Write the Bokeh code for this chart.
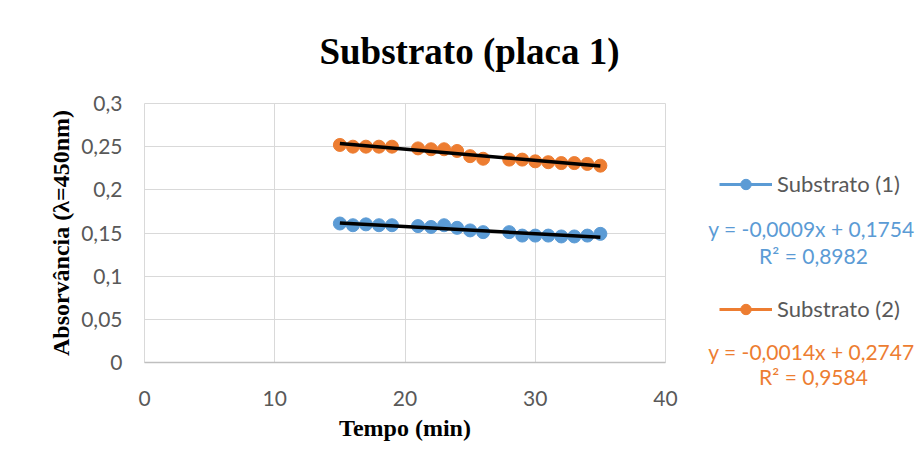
import numpy as np
from bokeh.plotting import figure
from bokeh.layouts import column, row
from bokeh.models import (Label, Legend, LegendItem, FixedTicker, Range1d,
                          ColumnDataSource)
from bokeh.embed import file_html
from bokeh.resources import INLINE

# ---- data ----
tempo = [15, 16, 17, 18, 19, 21, 22, 23, 24, 25, 26, 28, 29, 30, 31, 32, 33, 34, 35]
substrato_1 = [0.161, 0.159, 0.160, 0.159, 0.159, 0.158, 0.157, 0.159, 0.156, 0.153,
               0.151, 0.151, 0.147, 0.147, 0.147, 0.146, 0.146, 0.147, 0.149]
substrato_2 = [0.252, 0.250, 0.250, 0.250, 0.250, 0.248, 0.247, 0.247, 0.245, 0.239,
               0.236, 0.235, 0.235, 0.233, 0.232, 0.231, 0.231, 0.230, 0.228]
series_names = ["Substrato (1)", "Substrato (2)"]
equations = ["y = -0,0009x + 0,1754", "y = -0,0014x + 0,2747"]
r2_texts = ["R² = 0,8982", "R² = 0,9584"]
x_ticks = [0, 10, 20, 30, 40]
y_ticks = [0, 0.05, 0.1, 0.15, 0.2, 0.25, 0.3]
y_tick_labels = ["0", "0,05", "0,1", "0,15", "0,2", "0,25", "0,3"]
title_text = "Substrato (placa 1)"
x_title = "Tempo (min)"
y_title = "Absorvância (λ=450nm)"

BLUE = "#5B9BD5"
ORANGE = "#ED7D31"
GRID = "#D9D9D9"
TXT = "#595959"
SANS = "Lato"
SERIF = "Liberation Serif"

TOTAL_W, TOTAL_H, TOP_H, MAIN_W = 916, 470, 80, 680
MAIN_H = TOTAL_H - TOP_H
FL, FW = 144, 521          # frame left / width of the main plot
FR = MAIN_W - FL - FW
FT, FH = 103 - TOP_H, 259  # frame top (inside main figure) / height
FB = MAIN_H - FT - FH


def blank(width, height, left=0, right=0):
    f = figure(width=width, height=height,
               x_range=Range1d(left, width - right), y_range=Range1d(height, 0),
               x_axis_location=None, y_axis_location=None, min_border=0,
               min_border_left=left, min_border_right=right,
               output_backend="svg", toolbar_location=None)
    f.grid.visible = False
    f.outline_line_color = None
    f.background_fill_color = "white"
    f.border_fill_color = "white"
    return f


# ---- title strip (above the main plot, frame aligned with it) ----
top = blank(MAIN_W, TOP_H, left=FL, right=FR)
top.add_layout(Label(x=469, y=51, text=title_text, text_align="center",
                     text_baseline="middle", text_font=SERIF, text_font_size="37px",
                     text_font_style="bold", text_color="black"))

# ---- main plot ----
p = figure(frame_width=FW, frame_height=FH,
           min_border_left=FL, min_border_right=FR,
           min_border_top=FT, min_border_bottom=FB,
           x_range=Range1d(0, 40), y_range=Range1d(0, 0.3),
           output_backend="svg", toolbar_location=None)
p.outline_line_color = GRID
p.background_fill_color = "white"
p.border_fill_color = "white"

p.xgrid.ticker = FixedTicker(ticks=x_ticks)
p.ygrid.ticker = FixedTicker(ticks=y_ticks)
for g in (p.xgrid, p.ygrid):
    g.grid_line_color = GRID
    g.grid_line_width = 1

p.xaxis.ticker = FixedTicker(ticks=x_ticks)
p.yaxis.ticker = FixedTicker(ticks=y_ticks)
p.yaxis.major_label_overrides = {t: l for t, l in zip(y_ticks, y_tick_labels)}
for ax in (p.xaxis, p.yaxis):
    ax.major_tick_line_color = None
    ax.minor_tick_line_color = None
    ax.major_label_text_font = SANS
    ax.major_label_text_font_size = "21px"
    ax.major_label_text_color = TXT
    ax.axis_label_text_font = SERIF
    ax.axis_label_text_font_size = "24px"
    ax.axis_label_text_font_style = "bold"
    ax.axis_label_text_color = "black"
p.xaxis.axis_label = x_title
p.yaxis.axis_label = y_title
p.yaxis.axis_line_color = None
p.xaxis.axis_line_color = "#BFBFBF"
p.xaxis.axis_line_width = 1.5
p.xaxis.major_label_standoff = 22
p.yaxis.major_label_standoff = 16
p.xaxis.axis_label_standoff = 6
p.yaxis.axis_label_standoff = 4

src1 = ColumnDataSource(dict(x=tempo, y=substrato_1))
src2 = ColumnDataSource(dict(x=tempo, y=substrato_2))
p.scatter("x", "y", source=src1, size=13, color=BLUE, line_color=BLUE)
p.scatter("x", "y", source=src2, size=13, color=ORANGE, line_color=ORANGE)

# linear trendlines
xt = np.array([min(tempo), max(tempo)], dtype=float)
for ys in (substrato_1, substrato_2):
    m, b = np.polyfit(tempo, ys, 1)
    p.line(xt, m * xt + b, line_color="black", line_width=3.5)

# ---- legend / equations panel (full height, page pixel coordinates) ----
side = blank(TOTAL_W - MAIN_W, TOTAL_H)
items = []
for name, col in zip(series_names, (BLUE, ORANGE)):
    ln = side.line(x=[np.nan], y=[np.nan], line_color=col, line_width=3)
    mk = side.scatter(x=[np.nan], y=[np.nan], size=11, color=col, line_color=col)
    items.append(LegendItem(label=name, renderers=[ln, mk]))
legend = Legend(items=items, location=(39, TOTAL_H - 322), orientation="vertical",
                glyph_width=53, glyph_height=26, label_height=26,
                label_standoff=5, spacing=98, margin=0, padding=0,
                border_line_alpha=0, background_fill_alpha=0,
                label_text_font=SANS, label_text_font_size="22px",
                label_text_color=TXT)
side.add_layout(legend, "center")

eq_colors = [BLUE, ORANGE]
eq_y = [228, 351]
r2_y = [255, 376]
for i in range(2):
    side.add_layout(Label(x=811 - MAIN_W, y=eq_y[i], text=equations[i],
                          text_align="center", text_baseline="middle",
                          text_font=SANS, text_font_size="21px",
                          text_color=eq_colors[i]))
    side.add_layout(Label(x=813 - MAIN_W, y=r2_y[i], text=r2_texts[i],
                          text_align="center", text_baseline="middle",
                          text_font=SANS, text_font_size="21px",
                          text_color=eq_colors[i]))

layout = row(column(top, p, spacing=0), side, spacing=0)
open("out.html", "w").write(file_html(layout, INLINE))
